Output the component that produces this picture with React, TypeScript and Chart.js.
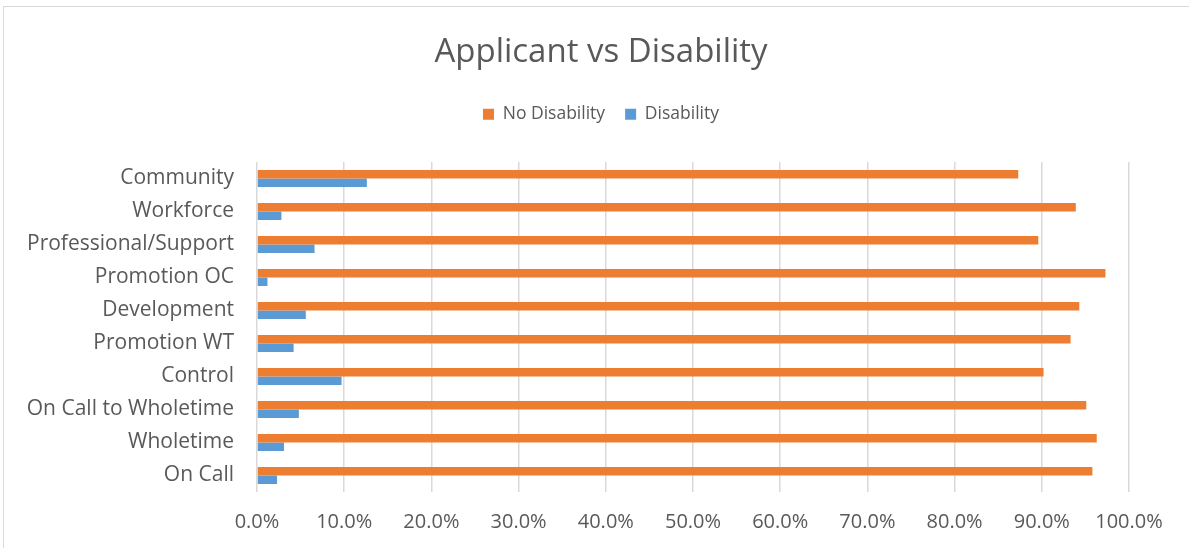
import React, { useEffect, useRef } from "react";
import { Chart, registerables } from "chart.js";

Chart.register(...registerables);

const categories = [
  "Community",
  "Workforce",
  "Professional/Support",
  "Promotion OC",
  "Development",
  "Promotion WT",
  "Control",
  "On Call to Wholetime",
  "Wholetime",
  "On Call",
];
const noDisability = [87.3, 93.9, 89.6, 97.3, 94.3, 93.3, 90.2, 95.1, 96.3, 95.8];
const disability = [12.6, 2.8, 6.6, 1.2, 5.6, 4.2, 9.7, 4.8, 3.1, 2.3];
const seriesNames = ["No Disability", "Disability"];
const xMin = 0;
const xMax = 100;
const xStep = 10;

const FONT = "'Open Sans', 'Noto Sans', sans-serif";
const TEXT = "#595959";
const PLOT_TOP = 162;

export default function App() {
  const ref = useRef<HTMLCanvasElement | null>(null);

  useEffect(() => {
    if (!ref.current) return;
    const chart = new Chart(ref.current, {
      type: "bar",
      data: {
        labels: categories,
        datasets: [
          {
            label: seriesNames[0],
            data: noDisability,
            backgroundColor: "#ED7D31",
            borderWidth: 0,
            categoryPercentage: 0.515,
            barPercentage: 1,
          },
          {
            label: seriesNames[1],
            data: disability,
            backgroundColor: "#5B9BD5",
            borderWidth: 0,
            categoryPercentage: 0.515,
            barPercentage: 1,
          },
        ],
      },
      options: {
        indexAxis: "y",
        responsive: false,
        animation: false,
        layout: { padding: { left: 13, right: 0, top: 0, bottom: 0 } },
        plugins: {
          tooltip: { enabled: false },
          title: {
            display: true,
            text: "Applicant vs Disability",
            color: TEXT,
            font: { family: FONT, size: 33, weight: "normal" },
            padding: { top: 33, bottom: 13 },
          },
          legend: {
            display: true,
            position: "top",
            labels: {
              color: TEXT,
              font: { family: FONT, size: 17.5 },
              boxWidth: 11,
              boxHeight: 11,
              padding: 20,
            },
          },
        },
        scales: {
          x: {
            type: "linear",
            min: xMin,
            max: xMax,
            ticks: {
              stepSize: xStep,
              color: TEXT,
              font: { family: FONT, size: 20 },
              padding: 18,
              maxRotation: 0,
              callback: (v: any) => Number(v).toFixed(1) + "%",
            },
            grid: { color: "#D9D9D9", lineWidth: 1.5, drawTicks: false },
            border: { display: false },
            afterFit: (s: any) => {
              s.paddingLeft = 0;
              s.paddingRight = 60;
              s.height = 56;
            },
          },
          xSpacer: {
            type: "linear",
            axis: "x",
            position: "top",
            min: xMin,
            max: xMax,
            ticks: { display: false },
            grid: { display: false, drawTicks: false },
            border: { display: false },
            afterFit: (s: any) => {
              const c = s.chart;
              const th = c.titleBlock ? c.titleBlock.height : 0;
              const lh = c.legend ? c.legend.height : 0;
              s.paddingLeft = 0;
              s.paddingRight = 60;
              s.height = Math.max(0, PLOT_TOP - th - lh);
            },
          },
          y: {
            type: "category",
            ticks: {
              color: TEXT,
              font: { family: FONT, size: 21 },
              padding: 23,
            },
            grid: { display: false, drawTicks: false },
            border: { display: false },
            afterFit: (s: any) => {
              s.width = 244;
              s.paddingTop = 0;
              s.paddingBottom = 0;
            },
          },
        },
      },
    });
    return () => chart.destroy();
  }, []);

  return (
    <div
      style={{
        position: "fixed",
        left: 0,
        top: 0,
        width: 1189,
        height: 548,
        background: "#ffffff",
        overflow: "hidden",
      }}
    >
      <div
        style={{
          position: "absolute",
          left: 3,
          top: 6,
          width: 1200,
          height: 600,
          border: "1px solid #D9D9D9",
        }}
      />
      <canvas
        ref={ref}
        width={1189}
        height={548}
        style={{ position: "absolute", left: 0, top: 0 }}
      />
    </div>
  );
}
